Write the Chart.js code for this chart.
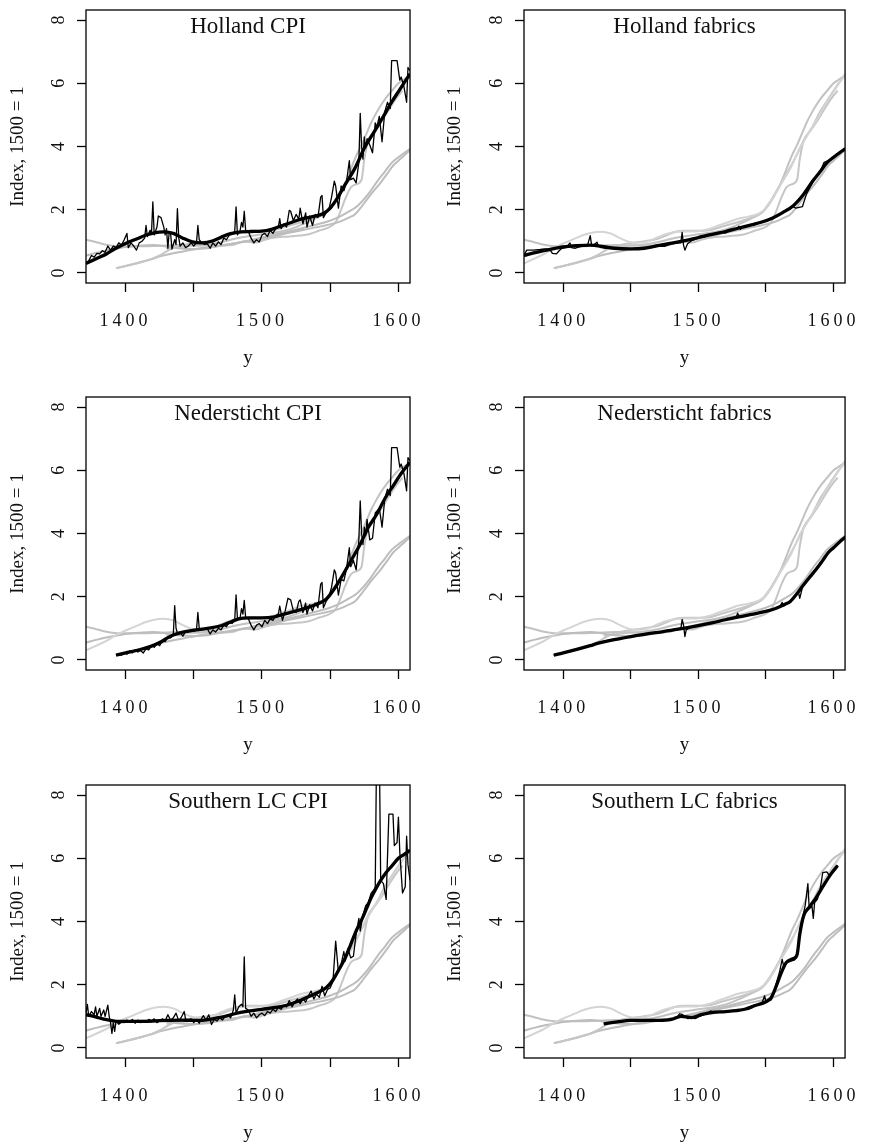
<!DOCTYPE html>
<html>
<head>
<meta charset="utf-8">
<script src="https://cdn.jsdelivr.net/npm/chart.js@4.4.1/dist/chart.umd.min.js"></script>
<style>
  html, body { margin: 0; padding: 0; background: #fff; }
  #page { position: relative; width: 870px; height: 1147px; overflow: hidden; }
  #page canvas { position: absolute; }
</style>
</head>
<body>
<div id="page">
  <canvas id="p0" width="435" height="387" style="left:0;top:0"></canvas>
  <canvas id="p1" width="435" height="387" style="left:435px;top:0"></canvas>
  <canvas id="p2" width="435" height="387" style="left:0;top:387px"></canvas>
  <canvas id="p3" width="435" height="387" style="left:435px;top:387px"></canvas>
  <canvas id="p4" width="435" height="387" style="left:0;top:775px"></canvas>
  <canvas id="p5" width="435" height="387" style="left:435px;top:775px"></canvas>
</div>
<script>
// ---- DATA (year, index 1500 = 1) ----

var panelTitles = ['Holland CPI', 'Holland fabrics', 'Nedersticht CPI', 'Nedersticht fabrics', 'Southern LC CPI', 'Southern LC fabrics'];

var xTickValues = [1400, 1450, 1500, 1550, 1600];
var xTickLabels = ['1400', '', '1500', '', '1600'];
var yTickValues = [0, 2, 4, 6, 8];

// smoothed trends (thick line in own panel, grey in all panels)
var hollandCpiSmooth = [[1371,0.30],[1380,0.48],[1386,0.60],[1393,0.78],[1400,0.93],[1409,1.09],[1415,1.20],[1421,1.27],[1428,1.30],[1435,1.25],[1442,1.10],[1449,0.98],[1456,0.95],[1463,1.00],[1470,1.13],[1477,1.24],[1485,1.30],[1492,1.31],[1500,1.32],[1507,1.38],[1515,1.50],[1523,1.62],[1530,1.72],[1537,1.78],[1545,1.88],[1550,2.05],[1555,2.35],[1561,2.80],[1568,3.30],[1575,3.95],[1582,4.45],[1589,4.95],[1595,5.40],[1601,5.80],[1608.5,6.30]];
var hollandFabSmooth = [[1371,0.55],[1380,0.65],[1390,0.74],[1400,0.82],[1410,0.86],[1420,0.88],[1430,0.83],[1438,0.78],[1450,0.76],[1460,0.78],[1470,0.86],[1480,0.94],[1490,1.02],[1500,1.12],[1510,1.22],[1520,1.31],[1530,1.42],[1540,1.53],[1547,1.61],[1555,1.74],[1562,1.90],[1570,2.12],[1578,2.50],[1585,2.93],[1590,3.20],[1595,3.48],[1600,3.66],[1608.5,3.93]];
var nederCpiSmooth = [[1393,0.15],[1400,0.22],[1410,0.32],[1418,0.42],[1425,0.55],[1430,0.68],[1435,0.79],[1442,0.88],[1450,0.94],[1460,1.00],[1470,1.08],[1477,1.20],[1483,1.30],[1490,1.33],[1500,1.33],[1508,1.35],[1515,1.43],[1523,1.53],[1532,1.64],[1540,1.76],[1547,1.92],[1553,2.25],[1558,2.60],[1563,2.97],[1568,3.35],[1573,3.75],[1578,4.20],[1584,4.60],[1590,5.10],[1596,5.50],[1602,5.90],[1608.5,6.25]];
var nederFabSmooth = [[1393,0.15],[1400,0.22],[1410,0.33],[1420,0.45],[1426,0.53],[1435,0.62],[1450,0.74],[1460,0.81],[1473,0.89],[1485,0.97],[1497,1.06],[1510,1.17],[1520,1.27],[1530,1.36],[1544,1.48],[1552,1.56],[1558,1.64],[1564,1.76],[1568,1.85],[1573,2.10],[1577,2.33],[1582,2.60],[1587,2.86],[1592,3.15],[1596,3.39],[1600,3.55],[1605,3.75],[1609,3.90]];
var southCpiSmooth = [[1371,1.05],[1378,0.98],[1385,0.90],[1392,0.85],[1400,0.84],[1410,0.84],[1420,0.85],[1430,0.87],[1440,0.88],[1450,0.87],[1458,0.88],[1466,0.94],[1473,1.00],[1480,1.08],[1490,1.16],[1500,1.22],[1510,1.28],[1518,1.35],[1525,1.45],[1532,1.58],[1540,1.74],[1547,1.90],[1552,2.15],[1556,2.45],[1561,2.85],[1565,3.27],[1569,3.70],[1573,4.05],[1577,4.45],[1580,4.75],[1584,5.08],[1587,5.30],[1591,5.55],[1595,5.75],[1600,6.00],[1604,6.12],[1608.5,6.25]];
var southFabSmooth = [[1430,0.76],[1440,0.82],[1450,0.87],[1460,0.87],[1470,0.87],[1480,0.90],[1487,1.00],[1495,0.96],[1502,1.05],[1510,1.12],[1520,1.15],[1528,1.18],[1535,1.23],[1542,1.34],[1550,1.46],[1554,1.60],[1558,2.00],[1561,2.34],[1565,2.70],[1570,2.82],[1573,2.95],[1575,3.60],[1578,4.20],[1582,4.45],[1587,4.75],[1592,5.10],[1598,5.50],[1603,5.77]];

// annual series (thin black line)
var hollandCpiRaw = [[1371,0.30],[1373,0.38],[1375,0.55],[1377,0.50],[1379,0.62],[1381,0.60],[1383,0.70],[1385,0.65],[1387,0.85],[1389,0.72],[1391,0.85],[1393,0.80],[1395,0.95],[1397,0.88],[1399,1.05],[1401,1.25],[1402,0.80],[1404,0.95],[1406,0.85],[1408,0.72],[1410,0.95],[1412,1.00],[1414,1.10],[1415,1.50],[1416,1.15],[1418,1.35],[1419,1.25],[1420,2.25],[1421,1.20],[1423,1.45],[1424,1.80],[1426,1.75],[1428,1.45],[1429,1.20],[1430,1.40],[1431,0.78],[1432,1.30],[1433,1.25],[1434,0.75],[1436,1.05],[1437,0.90],[1438,2.03],[1439,1.10],[1440,0.85],[1442,0.95],[1444,0.80],[1446,0.85],[1448,0.95],[1450,0.85],[1452,0.95],[1453,1.50],[1454,1.05],[1456,0.95],[1458,0.90],[1460,0.92],[1462,0.78],[1464,0.95],[1466,0.85],[1468,0.98],[1470,0.90],[1472,1.10],[1474,1.05],[1476,1.20],[1478,1.25],[1480,1.30],[1481,2.09],[1482,1.20],[1484,1.35],[1485,1.60],[1486,1.45],[1487,1.95],[1488,1.35],[1490,1.30],[1492,1.10],[1494,0.95],[1496,1.05],[1498,0.98],[1500,1.20],[1502,1.25],[1504,1.15],[1506,1.35],[1508,1.25],[1510,1.40],[1512,1.45],[1513,1.72],[1514,1.40],[1516,1.55],[1518,1.45],[1520,1.98],[1521,1.95],[1523,1.65],[1525,1.85],[1527,1.70],[1528,2.05],[1530,1.55],[1532,1.90],[1533,1.45],[1535,1.80],[1537,1.50],[1539,1.85],[1541,1.75],[1543,2.40],[1544,2.45],[1545,1.75],[1547,1.90],[1549,2.00],[1551,2.40],[1553,2.90],[1554,2.75],[1556,2.05],[1558,2.75],[1560,2.60],[1562,2.90],[1564,3.55],[1565,2.95],[1567,3.00],[1569,2.85],[1571,3.50],[1572,5.05],[1573,4.00],[1574,3.60],[1575,4.30],[1576,3.95],[1577,4.25],[1579,4.05],[1581,3.80],[1583,4.75],[1584,4.60],[1586,4.95],[1587,4.55],[1588,4.15],[1590,5.10],[1592,5.40],[1594,5.20],[1595,6.72],[1599,6.72],[1601,6.10],[1602,6.20],[1604,5.90],[1606,5.40],[1607,6.50],[1608.5,6.40]];
var hollandFabRaw = [[1371,0.55],[1373,0.72],[1378,0.72],[1383,0.74],[1386,0.76],[1390,0.75],[1392,0.62],[1395,0.60],[1397,0.70],[1399,0.78],[1402,0.80],[1405,0.95],[1406,0.80],[1409,0.78],[1412,0.82],[1415,0.85],[1418,0.88],[1420,1.18],[1421,0.88],[1423,0.90],[1425,0.97],[1426,0.85],[1428,0.80],[1432,0.78],[1436,0.76],[1440,0.76],[1445,0.74],[1450,0.76],[1455,0.76],[1460,0.78],[1465,0.80],[1470,0.84],[1475,0.84],[1480,0.92],[1485,0.95],[1487,0.95],[1488,1.28],[1489,0.88],[1490,0.72],[1492,0.92],[1495,1.02],[1500,1.10],[1505,1.15],[1510,1.22],[1515,1.28],[1520,1.26],[1525,1.38],[1528,1.38],[1530,1.48],[1531,1.38],[1533,1.45],[1538,1.50],[1542,1.57],[1546,1.60],[1550,1.67],[1555,1.74],[1560,1.85],[1565,2.00],[1570,2.10],[1572,2.05],[1577,2.10],[1580,2.50],[1585,2.90],[1590,3.20],[1593,3.50],[1596,3.55],[1600,3.65],[1605,3.80],[1608.5,3.95]];
var nederCpiRaw = [[1393,0.15],[1395,0.18],[1397,0.15],[1399,0.22],[1401,0.18],[1403,0.28],[1405,0.22],[1407,0.32],[1409,0.25],[1411,0.30],[1413,0.22],[1415,0.35],[1417,0.32],[1419,0.45],[1421,0.40],[1423,0.52],[1425,0.45],[1427,0.62],[1429,0.58],[1431,0.72],[1433,0.70],[1435,0.80],[1436,1.72],[1437,1.00],[1438,0.85],[1440,0.88],[1442,0.75],[1444,0.90],[1446,0.88],[1448,0.95],[1450,0.90],[1452,0.95],[1453,1.50],[1454,1.00],[1456,0.95],[1458,1.00],[1460,0.98],[1462,0.82],[1464,0.95],[1466,0.88],[1468,1.00],[1470,0.95],[1472,1.10],[1474,1.05],[1476,1.20],[1478,1.15],[1480,1.25],[1481,2.06],[1482,1.30],[1484,1.35],[1485,1.62],[1486,1.45],[1487,1.88],[1488,1.35],[1490,1.30],[1492,1.10],[1494,0.95],[1496,1.10],[1498,1.15],[1500,1.05],[1502,1.25],[1504,1.15],[1506,1.30],[1508,1.25],[1510,1.40],[1512,1.45],[1513,1.70],[1515,1.25],[1517,1.55],[1519,1.95],[1521,1.90],[1523,1.55],[1525,1.50],[1527,1.85],[1528,1.90],[1530,1.50],[1532,1.80],[1533,1.45],[1535,1.75],[1537,1.55],[1539,1.80],[1541,1.65],[1543,2.40],[1544,2.45],[1545,1.65],[1547,1.85],[1549,2.00],[1551,2.30],[1553,2.85],[1554,2.75],[1556,2.05],[1558,2.55],[1560,2.50],[1562,2.90],[1564,3.55],[1565,2.95],[1567,3.15],[1569,2.85],[1571,3.80],[1572,5.03],[1573,4.00],[1574,3.65],[1575,4.20],[1576,3.95],[1577,4.45],[1579,3.80],[1581,3.85],[1583,4.65],[1584,4.70],[1586,4.80],[1587,4.50],[1588,4.20],[1590,5.10],[1592,5.40],[1594,5.20],[1595,6.72],[1599,6.72],[1601,6.10],[1602,6.20],[1604,5.90],[1606,5.35],[1607,6.40],[1608.5,6.30]];
var nederFabRaw = [[1393,0.15],[1396,0.18],[1399,0.20],[1402,0.24],[1405,0.28],[1408,0.31],[1411,0.34],[1414,0.38],[1417,0.42],[1420,0.45],[1423,0.49],[1426,0.53],[1429,0.56],[1432,0.59],[1436,0.63],[1440,0.66],[1444,0.70],[1448,0.73],[1452,0.75],[1456,0.78],[1460,0.81],[1464,0.83],[1468,0.86],[1472,0.88],[1476,0.91],[1480,0.93],[1484,0.95],[1487,0.98],[1488,1.28],[1489,1.10],[1490,0.74],[1491,0.95],[1494,1.03],[1497,1.06],[1500,1.08],[1504,1.12],[1508,1.15],[1512,1.19],[1516,1.23],[1520,1.27],[1524,1.30],[1528,1.35],[1529,1.48],[1530,1.38],[1533,1.40],[1537,1.43],[1541,1.46],[1545,1.49],[1549,1.53],[1553,1.57],[1557,1.62],[1560,1.68],[1562,1.82],[1563,1.70],[1566,1.80],[1569,1.90],[1572,2.05],[1574,2.15],[1575,1.95],[1577,2.30],[1580,2.50],[1584,2.72],[1588,2.95],[1592,3.15],[1595,3.35],[1598,3.50],[1601,3.62],[1605,3.78],[1609,3.90]];
var southCpiRaw = [[1371,1.10],[1372,1.38],[1373,1.00],[1375,1.15],[1377,1.05],[1378,1.30],[1379,1.00],[1381,1.25],[1382,1.00],[1384,1.20],[1385,1.00],[1387,1.35],[1388,1.00],[1389,0.80],[1390,0.46],[1391,0.80],[1392,0.52],[1393,0.85],[1395,0.75],[1397,0.82],[1399,0.80],[1401,0.88],[1403,0.82],[1405,0.90],[1407,0.78],[1409,0.88],[1411,0.80],[1413,0.85],[1415,0.82],[1417,0.90],[1419,0.86],[1421,0.92],[1423,0.80],[1425,0.85],[1427,0.92],[1429,0.85],[1431,1.05],[1433,0.88],[1435,0.95],[1437,1.10],[1439,0.85],[1441,0.98],[1443,1.15],[1444,0.90],[1446,0.88],[1448,0.92],[1450,0.80],[1452,0.90],[1454,0.78],[1456,0.95],[1457,1.02],[1459,0.88],[1461,1.05],[1463,0.74],[1465,0.90],[1467,0.85],[1469,0.95],[1471,0.88],[1473,1.00],[1475,1.05],[1477,0.95],[1479,1.20],[1480,1.68],[1481,1.10],[1483,1.30],[1485,1.38],[1486,1.30],[1487,2.88],[1488,1.25],[1490,1.20],[1492,1.00],[1494,1.10],[1496,0.95],[1498,1.05],[1500,1.10],[1502,1.02],[1504,1.15],[1506,1.10],[1508,1.22],[1510,1.15],[1512,1.28],[1514,1.22],[1516,1.35],[1518,1.30],[1520,1.50],[1522,1.30],[1524,1.45],[1526,1.55],[1528,1.40],[1530,1.55],[1532,1.45],[1534,1.65],[1536,1.80],[1538,1.55],[1540,1.70],[1542,1.60],[1544,1.95],[1546,1.65],[1548,1.85],[1550,1.90],[1552,2.10],[1554,3.38],[1556,2.40],[1558,2.65],[1560,3.05],[1561,2.75],[1563,3.15],[1565,2.85],[1567,2.90],[1569,3.60],[1571,4.10],[1572,3.70],[1574,4.20],[1576,4.50],[1578,4.60],[1580,4.90],[1582,5.00],[1583,5.10],[1584,9.50],[1586,9.50],[1587,5.30],[1589,5.20],[1591,4.70],[1593,7.40],[1596,7.40],[1597,6.40],[1599,6.50],[1600,7.30],[1601,6.20],[1603,4.90],[1605,5.10],[1606,6.70],[1607,5.80],[1608.5,5.30]];
var southFabRaw = [[1430,0.76],[1433,0.78],[1436,0.80],[1440,0.82],[1444,0.84],[1448,0.86],[1452,0.87],[1456,0.87],[1460,0.86],[1464,0.87],[1468,0.86],[1472,0.84],[1476,0.88],[1479,0.88],[1481,0.92],[1484,0.95],[1486,1.08],[1488,1.06],[1490,1.00],[1492,0.93],[1495,0.94],[1498,0.93],[1501,1.00],[1504,1.05],[1507,1.10],[1509,1.17],[1511,1.12],[1514,1.12],[1517,1.15],[1520,1.15],[1523,1.18],[1526,1.18],[1529,1.15],[1532,1.20],[1535,1.25],[1538,1.30],[1541,1.35],[1544,1.38],[1547,1.42],[1549,1.65],[1550,1.45],[1552,1.50],[1554,1.52],[1556,1.80],[1558,2.10],[1560,2.40],[1562,2.80],[1563,2.60],[1565,2.70],[1567,2.72],[1569,2.75],[1571,2.78],[1573,2.90],[1575,3.70],[1577,4.10],[1579,4.50],[1581,5.20],[1582,4.40],[1584,4.50],[1585,4.10],[1586,4.60],[1588,4.70],[1590,5.00],[1592,5.55],[1595,5.57],[1597,5.45],[1600,5.60],[1603,5.78]];

var smoothSeries = [hollandCpiSmooth, hollandFabSmooth, nederCpiSmooth, nederFabSmooth, southCpiSmooth, southFabSmooth];
var rawSeries = [hollandCpiRaw, hollandFabRaw, nederCpiRaw, nederFabRaw, southCpiRaw, southFabRaw];
var greyColours = ['#d4d4d4', '#bdbdbd', '#c6c6c6', '#bdbdbd', '#c2c2c2', '#c6c6c6'];

// ---- DRAWING ----

var FONT = 'Liberation Serif';

function toPoints(pairs) {
  return pairs.map(function (p) { return { x: p[0], y: p[1] }; });
}

// box, panel title and the rotated y tick labels (R style)
var panelDecor = {
  id: 'panelDecor',
  afterDatasetsDraw: function (chart) {
    // x tick labels (ticks.z: 1) are drawn right after this hook, give the numbers some tracking
    chart.ctx.letterSpacing = '4px';
  },
  afterDraw: function (chart, args, opts) {
    var ctx = chart.ctx, area = chart.chartArea, yScale = chart.scales.y;
    ctx.letterSpacing = '0px';
    ctx.save();
    ctx.strokeStyle = '#000';
    ctx.lineWidth = 1.3;
    ctx.strokeRect(area.left, area.top, area.right - area.left, area.bottom - area.top);

    ctx.fillStyle = '#111';
    ctx.font = '23px "' + FONT + '"';
    ctx.textAlign = 'center';
    ctx.textBaseline = 'alphabetic';
    ctx.fillText(opts.title, (area.left + area.right) / 2, area.top + 23);

    ctx.font = '18px "' + FONT + '"';
    ctx.textBaseline = 'middle';
    yTickValues.forEach(function (v) {
      ctx.save();
      ctx.translate(area.left - 26.5, yScale.getPixelForValue(v));
      ctx.rotate(-Math.PI / 2);
      ctx.fillText(String(v), 0, 0);
      ctx.restore();
    });
    ctx.restore();
  }
};

function makePanel(i) {
  var col = i % 2;
  var yAxisWidth = col === 0 ? 86 : 89;
  var padRight = col === 0 ? 16 : 12;

  var datasets = [
    { data: toPoints(smoothSeries[i]), borderColor: '#000', borderWidth: 3.3, cubicInterpolationMode: 'monotone', order: 0 },
    { data: toPoints(rawSeries[i]), borderColor: '#000', borderWidth: 1.3, tension: 0, order: 1 }
  ];
  smoothSeries.forEach(function (s, k) {
    datasets.push({ data: toPoints(s), borderColor: greyColours[k], borderWidth: 2, cubicInterpolationMode: 'monotone', order: 2 });
  });
  datasets.forEach(function (d) { d.pointRadius = 0; d.fill = false; d.borderJoinStyle = 'round'; });

  var tickGrid = { display: true, drawOnChartArea: false, drawTicks: true, tickLength: 9, tickWidth: 1.3, tickColor: '#000', color: '#000' };

  return new Chart(document.getElementById('p' + i), {
    type: 'line',
    data: { datasets: datasets },
    plugins: [panelDecor],
    options: {
      responsive: false,
      animation: false,
      events: [],
      layout: { padding: { left: 0, right: padRight, top: 10, bottom: 0 } },
      plugins: {
        legend: { display: false },
        tooltip: { enabled: false },
        panelDecor: { title: panelTitles[i] }
      },
      scales: {
        x: {
          type: 'linear',
          min: 1371,
          max: 1608.5,
          afterBuildTicks: function (s) { s.ticks = xTickValues.map(function (v) { return { value: v }; }); },
          afterFit: function (s) { s.height = 104; },
          grid: tickGrid,
          border: { display: false },
          ticks: {
            z: 1, autoSkip: false, maxRotation: 0, padding: 18, color: '#111',
            font: { family: FONT, size: 18 },
            callback: function (v) { return xTickLabels[xTickValues.indexOf(v)]; }
          },
          title: { display: true, text: 'y', color: '#111', font: { family: FONT, size: 19 }, padding: { top: 0, bottom: 18 } }
        },
        y: {
          type: 'linear',
          min: -0.32,
          max: 8.32,
          afterBuildTicks: function (s) { s.ticks = yTickValues.map(function (v) { return { value: v }; }); },
          afterFit: function (s) { s.width = yAxisWidth; },
          grid: tickGrid,
          border: { display: false },
          ticks: { display: false },
          title: { display: true, text: 'Index, 1500 = 1', color: '#111', font: { family: FONT, size: 19 }, padding: { top: col === 0 ? 7 : 8.5, bottom: 0 } }
        }
      }
    }
  });
}

for (var i = 0; i < 6; i++) { makePanel(i); }
</script>
</body>
</html>
